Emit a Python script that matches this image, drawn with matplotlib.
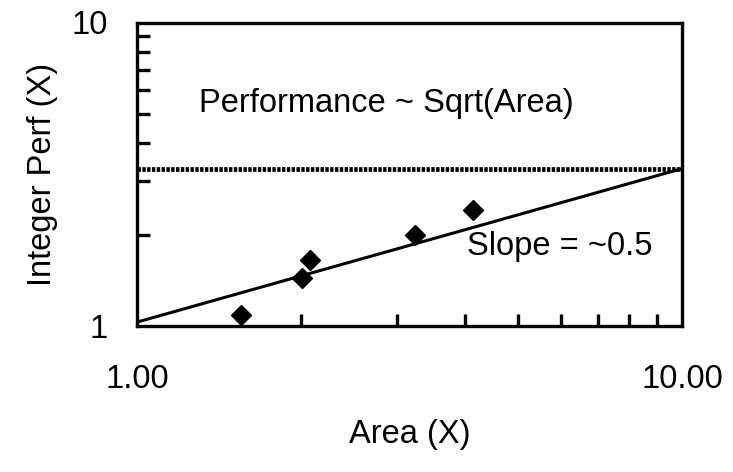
import matplotlib
import matplotlib.pyplot as plt
from matplotlib.ticker import FixedLocator, NullFormatter

matplotlib.use('Agg')

plt.rcParams['font.family'] = ['Liberation Sans', 'DejaVu Sans']

# measured points (area vs integer perf)
area = [1.55, 2.01, 2.08, 3.24, 4.13]
perf = [1.09, 1.44, 1.65, 1.99, 2.41]

# trend line and the flat reference line
trend_x = [1.0, 10.0]
trend_y = [1.03, 3.3]
flat_x = [1.0, 10.0]
flat_y = [3.3, 3.3]

x_ticks = [1, 10]
x_ticklabels = ['1.00', '10.00']
y_ticks = [1, 10]
y_ticklabels = ['1', '10']


def plot():
    fig = plt.figure(figsize=(7.33, 4.72), dpi=100)
    ax = fig.add_axes([137 / 733, 1 - 326 / 472, 545 / 733, 303.5 / 472])

    ax.plot(flat_x, flat_y, color='black', linewidth=3.4,
            linestyle=(0, (0.72, 0.3)), dash_capstyle='butt')
    ax.plot(trend_x, trend_y, color='black', linewidth=2.2)
    ax.plot(area, perf, linestyle='none', marker='D', markersize=9.8,
            color='black')

    ax.set_xscale('log')
    ax.set_yscale('log')
    ax.set_xlim(1, 10)
    ax.set_ylim(1, 10)

    ax.xaxis.set_major_locator(FixedLocator(x_ticks))
    ax.set_xticklabels(x_ticklabels)
    ax.yaxis.set_major_locator(FixedLocator(y_ticks))
    ax.set_yticklabels(y_ticklabels)
    ax.xaxis.set_minor_formatter(NullFormatter())
    ax.yaxis.set_minor_formatter(NullFormatter())

    ax.tick_params(which='both', direction='in', width=2.4, labelsize=23.5)
    ax.tick_params(axis='x', which='major', length=0, pad=27)
    ax.tick_params(axis='y', which='major', length=0, pad=21)
    ax.tick_params(which='minor', length=9)
    for sp in ax.spines.values():
        sp.set_linewidth(2.4)

    ax.text(1.30, 5.4, 'Performance ~ Sqrt(Area)', fontsize=23.5,
            ha='left', va='center')
    ax.text(4.03, 1.83, 'Slope = ~0.5', fontsize=23.5, ha='left', va='center')

    ax.set_xlabel('Area (X)', fontsize=23.5, labelpad=18)
    ax.set_ylabel('Integer Perf (X)', fontsize=23.5, labelpad=10)

    fig.savefig('out.png', dpi=100)


if __name__ == '__main__':
    plot()
